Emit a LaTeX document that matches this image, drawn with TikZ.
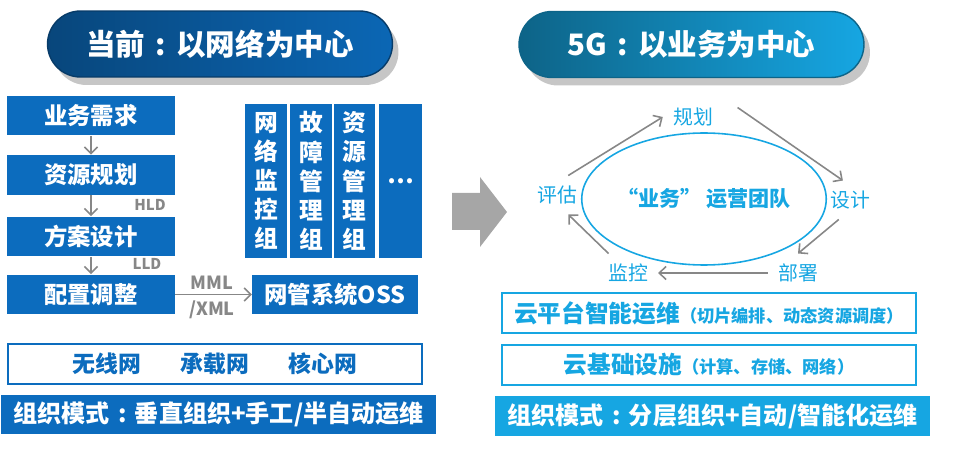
\documentclass[tikz,border=0pt]{standalone}
\usepackage{fontspec}
\setmainfont{Noto Sans CJK SC}
\usepackage{tikz}
\usetikzlibrary{arrows.meta,shapes.geometric,shadows}
\definecolor{netblue}{RGB}{12,108,190}
\definecolor{svccyan}{RGB}{22,166,226}
\definecolor{linkgray}{RGB}{135,135,135}
\definecolor{biggray}{RGB}{166,166,166}
\newcommand{\wcolon}{\hspace{0.35em}:\hspace{0.35em}}

\begin{document}
\begin{tikzpicture}[x=0.02cm,y=-0.02cm,>={Straight Barb[length=3.8pt,width=7.5pt]},
        pill/.style={draw,line width=0.8pt,rounded corners=0.66cm,minimum width=6.9cm,minimum height=1.32cm,
          text=white,font=\bfseries\fontsize{16.8}{18}\selectfont,
          drop shadow={shadow xshift=0.12cm,shadow yshift=-0.16cm,opacity=0.45}},
        flow/.style={fill=netblue,text=white,font=\bfseries\fontsize{13.3}{16}\selectfont,
          minimum width=3.36cm,minimum height=0.8cm,inner sep=0pt},
        team/.style={fill=netblue,text=white,font=\bfseries\fontsize{13.5}{16.6}\selectfont,
          align=center,minimum width=0.84cm,minimum height=3.08cm,inner sep=0pt},
        tag/.style={text=linkgray,font=\bfseries\fontsize{8.5}{10}\selectfont,inner sep=1pt},
        layer/.style={draw,fill=white,minimum width=8.28cm,minimum height=0.8cm,inner sep=0pt},
        mode/.style={text=white,font=\bfseries\fontsize{13.7}{16}\selectfont,
          minimum width=8.7cm,minimum height=0.79cm,inner sep=0pt},
        step5g/.style={text=svccyan,font=\fontsize{11.3}{13}\selectfont,inner sep=0.2cm},
        link/.style={->,draw=linkgray,line width=0.9pt}]
        \useasboundingbox (0,0) rectangle (958,456);
        % titles
        \node[pill,draw=netblue!55!black,left color=netblue!65!black,right color=netblue!95!black] (old) at (220,44) {当前\wcolon 以网络为中心};
        \node[pill,draw=svccyan!60!black,left color=svccyan!60!black,right color=svccyan] (new) at (691.5,44.5) {5G\wcolon 以业务为中心};
        % left: network centred
        \node[flow] (req) at (91,115.5) {业务需求};
        \node[flow] (res) at (91,175) {资源规划};
        \node[flow] (sol) at (91,236.5) {方案设计};
        \node[flow] (cfg) at (91,294.5) {配置调整};
        \draw[link] (req)--(res); \draw[link] (res)--(sol);
        \draw[link] (sol)--(cfg); \draw[link] (cfg)--(252,294.5);
        \node[tag] (hld) at (150,205) {HLD};
        \node[tag] (lld) at (147,264) {LLD};
        \node[tag,font=\bfseries\fontsize{10.3}{12}\selectfont] (mml) at (212,283) {MML};
        \node[tag,font=\bfseries\fontsize{10.3}{12}\selectfont] (xml) at (212,310) {/XML};
        \node[flow,minimum width=3.32cm] (oss) at (335,294.5) {网管系统OSS};
        \node[team] (mon) at (266,181) {网\\络\\监\\控\\组};
        \node[team] (flt) at (311,181) {故\\障\\管\\理\\组};
        \node[team] (rsg) at (354.5,181) {资\\源\\管\\理\\组};
        \node[team,minimum width=0.86cm] (etc) at (400.5,181) {…};
        \node[layer,draw=netblue,line width=0.8pt] (nets) at (215,364) {};
        \node[text=netblue,font=\bfseries\fontsize{13}{15}\selectfont] (ran) at (107,364) {无线网};
        \node[text=netblue,font=\bfseries\fontsize{13}{15}\selectfont] (bearer) at (215,364) {承载网};
        \node[text=netblue,font=\bfseries\fontsize{13}{15}\selectfont] (core) at (323,364) {核心网};
        \node[mode,fill=netblue] (oldmode) at (218.5,414.5) {组织模式\wcolon 垂直组织+手工/半自动运维};
        % big arrow
        \fill[biggray] (452,193) -- (480,193) -- (480,177) -- (507,212) -- (480,247) -- (480,230) -- (452,230) -- cycle;
        % right: service centred
        \node[ellipse,draw=svccyan,line width=0.9pt,minimum width=4.36cm,minimum height=2.64cm,inner sep=0pt,
          text=svccyan,font=\bfseries\fontsize{12}{14}\selectfont] (ops) at (704,199) {“业务”\hspace{0.2em}运营团队};
        \node[step5g] (plan) at (693,117) {规划};
        \node[step5g] (des) at (850,200) {设计};
        \node[step5g] (dep) at (798,273) {部署};
        \node[step5g] (moni) at (628,273) {监控};
        \node[step5g] (eva) at (557,195) {评估};
        \draw[link] (eva.60)--(plan.west); \draw[link,shorten <=0.35cm] (plan.north east)--(des.110);
        \draw[link] (des.240)--(dep.north); \draw[link] (dep)--(moni);
        \draw[link] (moni.135)--(eva.300);
        \node[layer,draw=svccyan,line width=0.9pt,text=svccyan] (cloudops) at (709,313)
          {{\bfseries\fontsize{13.5}{16}\selectfont 云平台智能运维}{\bfseries\fontsize{9.8}{12}\selectfont（切片编排、动态资源调度）}};
        \node[layer,draw=svccyan,line width=0.9pt,text=svccyan] (cloudinf) at (709,365)
          {{\bfseries\fontsize{13.5}{16}\selectfont 云基础设施}{\bfseries\fontsize{9.8}{12}\selectfont（计算、存储、网络）}};
        \node[mode,fill=svccyan] (newmode) at (712.5,416) {组织模式\wcolon 分层组织+自动/智能化运维};
      \end{tikzpicture}
\end{document}
